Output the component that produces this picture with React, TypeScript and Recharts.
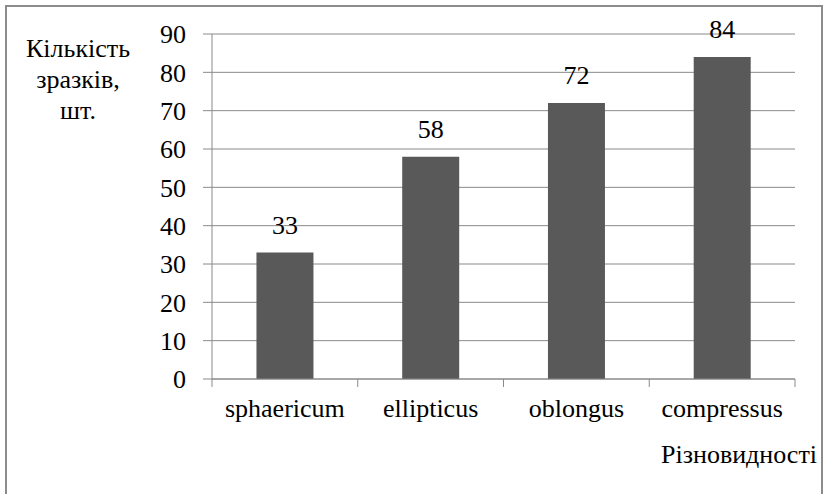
import React from "react";
import { BarChart, Bar, XAxis, YAxis, CartesianGrid, LabelList } from "recharts";

const categories = ["sphaericum", "ellipticus", "oblongus", "compressus"];
const counts = [33, 58, 72, 84];
const yTicks = [0, 10, 20, 30, 40, 50, 60, 70, 80, 90];
const yTitleLines = ["Кількість", "зразків,", "шт."];
const xTitle = "Різновидності";

const data = categories.map((name, i) => ({ name, count: counts[i] }));

const W = 825;
const H = 494;
const margin = { top: 34, right: 30, bottom: 0, left: 0 };
const yAxisWidth = 212;
const xAxisHeight = 115;
const FONT = '"Liberation Serif", "Times New Roman", serif';
const FS = 26;
const GRAY = "#8a8a8a";
const BAR = "#595959";
const band = (W - margin.right - margin.left - yAxisWidth) / categories.length;

// inline style so no stylesheet can override the serif face
const textStyle = { fill: "#000", fontSize: FS, fontFamily: FONT } as const;

// category label plus the boundary tick marks Excel draws between categories
function CategoryTick(props: any) {
  const { x, y, payload, index } = props;
  const axisY = y - 20;
  const left = x - band / 2;
  const right = x + band / 2;
  return (
    <g>
      <line x1={left} x2={left} y1={axisY} y2={axisY + 8} stroke={GRAY} />
      {index === categories.length - 1 && (
        <line x1={right} x2={right} y1={axisY} y2={axisY + 8} stroke={GRAY} />
      )}
      <text x={x} y={y} dy="0.71em" textAnchor="middle" style={textStyle}>
        {payload.value}
      </text>
    </g>
  );
}

function ValueTick(props: any) {
  const { x, y, payload } = props;
  return (
    <text x={x} y={y} dy="0.355em" textAnchor="end" style={textStyle}>
      {payload.value}
    </text>
  );
}

function BarValue(props: any) {
  const { x, y, width, value } = props;
  return (
    <text x={x + width / 2} y={y - 19} textAnchor="middle" style={textStyle}>
      {value}
    </text>
  );
}

function YTitle(props: any) {
  const vb = props.viewBox;
  return (
    <text x={78} y={vb.y + 23} textAnchor="middle" style={textStyle}>
      {yTitleLines.map((line, i) => (
        <tspan key={i} x={78} dy={i === 0 ? 0 : 31}>
          {line}
        </tspan>
      ))}
    </text>
  );
}

function XTitle(props: any) {
  const vb = props.viewBox;
  return (
    <text x={vb.x + vb.width + 22} y={vb.y + 84} textAnchor="end" style={textStyle}>
      {xTitle}
    </text>
  );
}

export default function App() {
  return (
    <div
      style={{
        position: "fixed",
        left: 0,
        top: 0,
        width: W,
        height: H,
        background: "#fff",
        overflow: "hidden",
        fontFamily: FONT,
      }}
    >
      <BarChart width={W} height={H} data={data} margin={margin} barCategoryGap="30.5%">
        <CartesianGrid vertical={false} stroke={GRAY} />
        <XAxis
          dataKey="name"
          height={xAxisHeight}
          axisLine={{ stroke: GRAY }}
          tickLine={false}
          tickSize={8}
          tickMargin={12}
          interval={0}
          tick={<CategoryTick />}
          label={<XTitle />}
        />
        <YAxis
          width={yAxisWidth}
          domain={[0, 90]}
          ticks={yTicks}
          interval={0}
          axisLine={{ stroke: GRAY }}
          tickLine={{ stroke: GRAY }}
          tickSize={9}
          tickMargin={17}
          tick={<ValueTick />}
          label={<YTitle />}
        />
        <Bar dataKey="count" fill={BAR} isAnimationActive={false}>
          <LabelList dataKey="count" content={<BarValue />} />
        </Bar>
      </BarChart>
      {/* outer chart frame; its bottom edge falls outside the picture, as in the source */}
      <div
        style={{
          position: "absolute",
          left: 5,
          top: 5,
          width: 814,
          height: 500,
          border: "2px solid #8c8c8c",
          pointerEvents: "none",
        }}
      />
    </div>
  );
}
